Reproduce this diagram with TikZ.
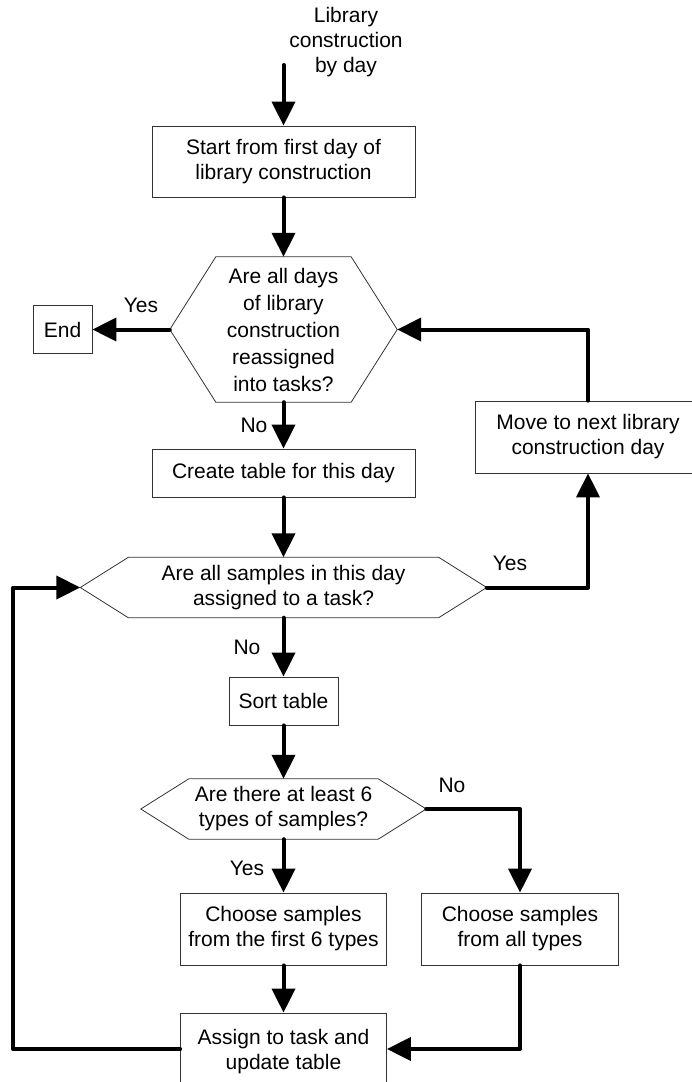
\documentclass[tikz,border=0pt]{standalone}
\usepackage{fontspec}
\setmainfont{Liberation Sans}
\usetikzlibrary{arrows.meta}
\newcommand\hexoutline[2]{%
  \draw[hexline] (#1.west) -- ([xshift=#2]#1.north west) -- ([xshift=-#2]#1.north east)
    -- (#1.east) -- ([xshift=-#2]#1.south east) -- ([xshift=#2]#1.south west) -- cycle;}
\begin{document}
\begin{tikzpicture}[x=1pt,y=-1pt,
  txt/.style={font=\fontsize{21}{25}\selectfont, align=center, inner sep=0pt},
  box/.style={txt, draw=black!80, line width=0.8pt},
  hexnode/.style={txt, draw=none},
  hexline/.style={draw=black!80, line width=0.8pt, line join=miter},
  flow/.style={line width=4pt, line cap=round, line join=round,
    -{Triangle[length=24pt,width=23pt]}},
  lbl/.style={txt}]
\useasboundingbox (0,0) rectangle (692,1082);
\clip (0,0) rectangle (692,1082);

% title
\node[txt] (title) at (346,42) {Library\\construction\\by day};
\coordinate (tstart) at (283.5,65);

% nodes
\node[box, minimum width=263pt, minimum height=71pt] (start) at (283.5,161.5) {Start from first day of\\library construction};
\node[hexnode, minimum width=227pt, minimum height=145pt, font=\fontsize{21}{27}\selectfont] (h1) at (283.5,329.5) {Are all days\\of library\\construction\\reassigned\\into tasks?};
\hexoutline{h1}{46pt}
\node[box, minimum width=59pt, minimum height=48pt] (end) at (62.5,329.5) {End};
\node[box, minimum width=226pt, minimum height=72pt] (move) at (588,437) {Move to next library\\construction day};
\node[box, minimum width=263pt, minimum height=48pt] (create) at (283.5,473) {Create table for this day};
\node[hexnode, minimum width=406pt, minimum height=60pt] (h2) at (283.5,587.5) {Are all samples in this day\\assigned to a task?};
\hexoutline{h2}{48pt}
\node[box, minimum width=109pt, minimum height=48pt] (sort) at (283.5,701) {Sort table};
\node[hexnode, minimum width=285pt, minimum height=60pt] (h3) at (283.5,809) {Are there at least 6\\types of samples?};
\hexoutline{h3}{48pt}
\node[box, minimum width=206pt, minimum height=72pt] (c1) at (283.5,929) {Choose samples\\from the first 6 types};
\node[box, minimum width=197pt, minimum height=72pt] (c2) at (520,929) {Choose samples\\from all types};
\node[box, minimum width=206pt, minimum height=72pt, text depth=0pt] (as) at (283.5,1049) {Assign to task and\\update table};

% labels
\node[lbl] (yes1) at (141,305) {Yes};
\node[lbl] (no1) at (254,425) {No};
\node[lbl] (yes2) at (510,563) {Yes};
\node[lbl] (no2) at (247,647) {No};
\node[lbl] (no3) at (452,785) {No};
\node[lbl] (yes3) at (247,868) {Yes};

% connectors
\draw[flow] (tstart) -- (start.north);
\draw[flow] (start.south) -- (h1.north);
\draw[flow] (h1.west) -- (end.east);
\draw[flow] (h1.south) -- (create.north);
\draw[flow] (move.north) |- (h1.east);
\draw[flow] (create.south) -- (h2.north);
\draw[flow] (h2.east) -| (move.south);
\draw[flow] (h2.south) -- (sort.north);
\draw[flow] (sort.south) -- (h3.north);
\draw[flow] (h3.east) -| (c2.north);
\draw[flow] (h3.south) -- (c1.north);
\draw[flow] (c1.south) -- (as.north);
\draw[flow] (c2.south) |- (as.east);
\coordinate (lb) at (13,1049);
\draw[flow] (as.west) -- (lb) |- (h2.west);
\end{tikzpicture}
\end{document}
